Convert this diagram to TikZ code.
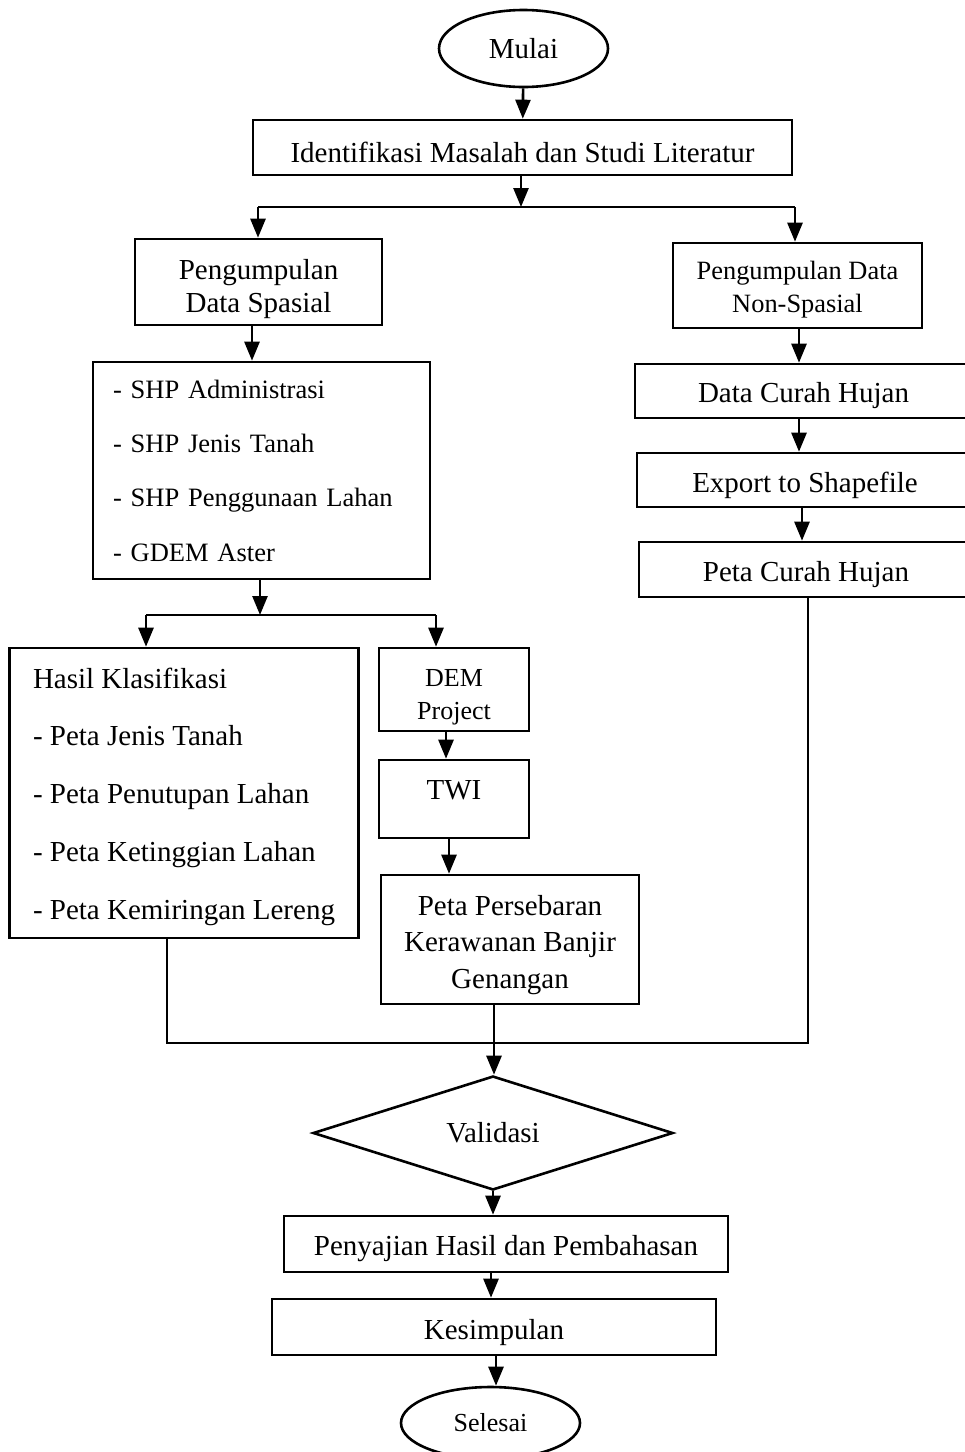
\documentclass[tikz,border=0pt]{standalone}
\usepackage{fontspec}
\setmainfont{Liberation Serif}
\usetikzlibrary{arrows.meta,shapes.geometric}
\newcommand{\dropby}[2]{\raisebox{-#1}[\height][\depth]{#2}}
\newcommand{\twolines}[2]{\begin{tabular}{@{}c@{}}#1\\#2\end{tabular}}
\tikzset{
  box/.style={draw, line width=2.6pt, rectangle, inner sep=0pt, align=center, font=\fontsize{29}{34}\selectfont},
  oval/.style={draw, line width=2.6pt, ellipse, inner sep=0pt, font=\fontsize{29}{34}\selectfont},
  dia/.style={draw, line width=2.6pt, diamond, inner sep=0pt, font=\fontsize{29}{34}\selectfont},
  arr/.style={line width=2.6pt, -{Triangle[length=19pt,width=15pt]}},
  thinline/.style={line width=1.2pt},
}
\begin{document}
\begin{tikzpicture}[x=1pt,y=-1pt]
\useasboundingbox (0,0) rectangle (965,1452);
\clip (0,0) rectangle (965,1452);
% nodes
\node[oval, minimum width=169pt, minimum height=77pt] (mulai) at (523.5,48.5) {Mulai};
\node[box, minimum width=539pt, minimum height=55pt] (ident) at (522.5,147.5) {\dropby{5pt}{Identifikasi Masalah dan Studi Literatur}};
\node[box, minimum width=247pt, minimum height=86pt, font=\fontsize{29}{33}\selectfont] (spas) at (258.5,282) {\dropby{7pt}{\twolines{Pengumpulan}{Data Spasial}}};
\node[box, minimum width=249pt, minimum height=85pt, font=\fontsize{26.4}{33}\selectfont] (nonsp) at (797.5,285.5) {\dropby{4pt}{\twolines{Pengumpulan Data}{Non-Spasial}}};
\node[box, minimum width=337pt, minimum height=217pt, align=left, text width=297pt, inner xsep=20pt, font=\fontsize{26.5}{54.3}\selectfont] (shp) at (261.5,470.5) {- SHP Administrasi\\- SHP Jenis Tanah\\- SHP Penggunaan Lahan\\- GDEM Aster};
\node[box, minimum width=337pt, minimum height=54pt] (curah) at (803.5,391) {\dropby{5pt}{Data Curah Hujan}};
\node[box, minimum width=336pt, minimum height=54pt] (export) at (805,480) {\dropby{5pt}{Export to Shapefile}};
\node[box, minimum width=334pt, minimum height=55pt] (petach) at (806,569.5) {\dropby{5pt}{Peta Curah Hujan}};
\node[box, minimum width=349pt, minimum height=290pt, font=\fontsize{29}{57.75}\selectfont] (hasil) at (184,793) {\raisebox{1pt}[\height][\depth]{\begin{tabular}{@{}l@{}}Hasil Klasifikasi\\- Peta Jenis Tanah\\- Peta Penutupan Lahan\\- Peta Ketinggian Lahan\\- Peta Kemiringan Lereng\end{tabular}}};
\node[box, minimum width=150pt, minimum height=83pt, font=\fontsize{26}{33}\selectfont] (dem) at (454,689.5) {\dropby{7pt}{\twolines{DEM}{Project}}};
\node[box, minimum width=150pt, minimum height=78pt] (twi) at (454,799) {\raisebox{9pt}[\height][\depth]{TWI}};
\node[box, minimum width=258pt, minimum height=129pt, font=\fontsize{29}{36.5}\selectfont] (pers) at (510,939.5) {\dropby{5pt}{\begin{tabular}{@{}c@{}}Peta Persebaran\\Kerawanan Banjir\\Genangan\end{tabular}}};
\node[dia, minimum width=360pt, minimum height=108pt] (valid) at (493,1133) {Validasi};
\node[box, minimum width=444pt, minimum height=56pt] (penyaj) at (506,1244) {\dropby{5pt}{Penyajian Hasil dan Pembahasan}};
\node[box, minimum width=444pt, minimum height=56pt] (kesim) at (494,1327) {\dropby{6pt}{Kesimpulan}};
\node[oval, minimum width=179pt, minimum height=72pt, font=\fontsize{26}{30}\selectfont] (selesai) at (490.5,1423) {Selesai};
% helper coordinates
\coordinate (j1) at (521,207);
\coordinate (j1l) at (258,207);
\coordinate (j1r) at (795,207);
\coordinate (c2) at (252,0);
\coordinate (j2) at (260,615);
\coordinate (j2l) at (146,615);
\coordinate (j2r) at (436,615);
\coordinate (c3) at (446,0);
\coordinate (c4) at (449,0);
\coordinate (c5) at (799,0);
\coordinate (c6) at (802,0);
\coordinate (j3a) at (167,1043);
\coordinate (j3b) at (494,1043);
\coordinate (j3c) at (808,1043);
\coordinate (c7) at (491,0);
\coordinate (c8) at (496,0);
% connectors
\draw[arr] (mulai) -- (ident);
\draw[arr] (ident.south -| j1) -- (j1);
\draw[thinline] (j1l) -- (j1r);
\draw[arr] (j1l) -- (j1l |- spas.north);
\draw[arr] (j1r) -- (j1r |- nonsp.north);
\draw[arr] (spas.south -| c2) -- (shp.north -| c2);
\draw[arr] (shp.south -| j2) -- (j2);
\draw[thinline] (j2l) -- (j2r);
\draw[arr] (j2l) -- (j2l |- hasil.north);
\draw[arr] (j2r) -- (j2r |- dem.north);
\draw[arr] (dem.south -| c3) -- (twi.north -| c3);
\draw[arr] (twi.south -| c4) -- (pers.north -| c4);
\draw[arr] (nonsp.south -| c5) -- (curah.north -| c5);
\draw[arr] (curah.south -| c5) -- (export.north -| c5);
\draw[arr] (export.south -| c6) -- (petach.north -| c6);
\draw[thinline] (hasil.south -| j3a) -- (j3a) -- (j3c) -- (petach.south -| j3c);
\draw[thinline] (pers.south -| j3b) -- (j3b);
\draw[arr] (j3b) -- (valid.north -| j3b);
\draw[arr] (valid.south) -- (penyaj.north -| valid.south);
\draw[arr] (penyaj.south -| c7) -- (kesim.north -| c7);
\draw[arr] (kesim.south -| c8) -- (selesai.north -| c8);
\end{tikzpicture}
\end{document}
